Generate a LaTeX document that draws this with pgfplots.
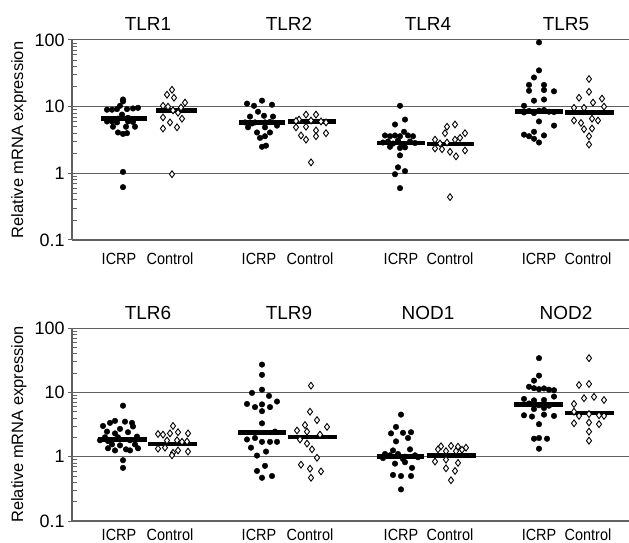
\documentclass[border=0pt]{standalone}
\usepackage{fontspec}
\setmainfont{Liberation Sans}
\usepackage{pgfplots}
\pgfplotsset{compat=1.18}
\definecolor{axgray}{gray}{0.38}

\pgfplotsset{
  icrpdots/.style={only marks, mark=*, mark size=2.8bp, black},
  ctrldiam/.style={only marks, mark=diamond*, mark size=3.4bp, mark options={draw=black, fill=white, line width=0.9bp}},
  medbar/.style={black, line width=4.5bp},
}
\tikzset{paneltitle/.style={font=\fontsize{19}{21}\selectfont, anchor=base, yshift=9bp}}

\begin{document}
\begin{tikzpicture}
\path[use as bounding box] (0,0) rectangle (629bp,543bp);

% top panel
\begin{axis}[scale only axis, width=557bp, height=200bp, at={(72bp,303bp)}, anchor=south west,
    xmin=72, xmax=629, ymode=log, ymin=0.1, ymax=100,
    ytick={0.1,1,10,100}, yticklabels={0.1,1,10,100},
    minor ytick={0.2,0.3,0.4,0.5,0.6,0.7,0.8,0.9,2,3,4,5,6,7,8,9,20,30,40,50,60,70,80,90},
    axis x line=bottom, axis y line=left,
    axis line style={-, draw=axgray, line width=1.2bp},
    ymajorgrids, grid style={axgray, line width=1bp},
    tick align=inside, minor tick length=5bp, major tick length=4bp,
    major tick style={line width=1bp, xshift=-4bp},
    minor tick style={line width=0.8bp},
    ytick style={draw=axgray}, xtick style={draw=none},
    xtick={119,170,259,310,401,450,539,588},
    xticklabels={ICRP,Control,ICRP,Control,ICRP,Control,ICRP,Control},
    xticklabel style={font=\fontsize{14.5}{16}\selectfont, inner sep=0pt, anchor=base, yscale=1.12, yshift=-22bp},
    yticklabel style={font=\fontsize{18}{20}\selectfont, xshift=-4bp},
    /pgf/number format/assume math mode=true,
    ylabel={Relative mRNA expression},
    ylabel style={font=\fontsize{16.5}{18}\selectfont, at={(axis description cs:0,0.5)}, anchor=base, yshift=49bp},
    clip=false]
% TLR1
\addplot[icrpdots] coordinates {(123,12.8)(123,12.0)(120,10.3)(107,9.0)(112,9.0)(117,9.2)(127,9.2)(133,9.4)(138,9.6)(122,7.6)(118,6.6)(128,6.8)(107,6.0)(112,6.0)(117,5.8)(128,6.0)(133,5.9)(113,5.0)(126,5.0)(135,5.0)(118,4.1)(123,3.9)(127,4.0)(123,1.05)(123,0.62)};
\addplot[ctrldiam] coordinates {(172,17.9)(167,15.1)(174,13.6)(185,11.5)(163,10.3)(168,10.0)(181,9.7)(173,8.8)(178,8.1)(163,6.9)(182,6.6)(170,5.8)(163,4.7)(177,4.9)(172,0.97)};
% TLR2
\addplot[icrpdots] coordinates {(247,11.1)(254,10.3)(262,12.3)(272,10.7)(258,8.4)(264,7.3)(250,7.1)(273,7.1)(245,5.8)(255,5.8)(265,5.8)(252,5.6)(270,5.9)(277,5.2)(248,4.9)(265,4.9)(257,4.1)(270,4.1)(260,3.4)(265,3.6)(262,2.5)(266,2.6)};
\addplot[ctrldiam] coordinates {(296,4.9)(301,3.7)(306,3.2)(306,5.0)(306,7.6)(316,7.6)(316,4.4)(316,3.6)(326,4.0)(311,1.46)(299,6.4)(321,6.0)(311,6.2)(296,6.1)(326,5.8)};
% TLR4
\addplot[icrpdots] coordinates {(400,10.3)(405,6.4)(395,5.4)(404,4.2)(385,3.7)(390,3.6)(395,3.7)(400,3.6)(408,3.7)(413,3.6)(388,3.0)(398,3.1)(410,3.0)(383,2.9)(393,2.8)(403,2.75)(415,2.85)(390,2.5)(400,2.4)(405,2.45)(400,1.86)(398,1.23)(405,1.08)(395,0.97)(400,0.6)};
\addplot[ctrldiam] coordinates {(435,3.2)(435,2.36)(442,2.3)(445,4.0)(447,5.0)(455,5.4)(455,3.2)(460,3.4)(465,4.0)(450,2.1)(456,1.8)(465,2.2)(447,2.9)(440,2.8)(450,0.44)};
% TLR5
\addplot[icrpdots] coordinates {(539,92)(539,35)(534,27.4)(529,21.2)(544,21.2)(529,17.3)(544,17.8)(554,17.0)(534,12.3)(544,12.8)(524,10.3)(524,8.2)(529,8.6)(534,8.0)(539,8.7)(544,8.9)(549,8.4)(554,8.3)(539,6.0)(554,5.2)(524,3.8)(529,3.6)(534,4.2)(544,3.7)(534,3.3)(539,2.9)};
\addplot[ctrldiam] coordinates {(589,26)(589,16.7)(579,13.6)(593,11.5)(602,13.2)(574,9.6)(584,9.6)(604,10.0)(574,6.2)(581,5.7)(592,6.6)(598,6.2)(584,4.6)(592,4.7)(589,3.6)(589,2.7)};
% medians
\addplot[medbar] coordinates {(101,6.6)(147,6.6)};
\addplot[medbar] coordinates {(156,8.7)(197,8.7)};
\addplot[medbar] coordinates {(239,5.8)(285,5.8)};
\addplot[medbar] coordinates {(288,6.0)(336,6.0)};
\addplot[medbar] coordinates {(377,2.87)(425,2.87)};
\addplot[medbar] coordinates {(427,2.77)(474,2.77)};
\addplot[medbar] coordinates {(515,8.4)(563,8.4)};
\addplot[medbar] coordinates {(565,8.2)(614,8.2)};
\node[paneltitle] at (axis cs:148,100) {TLR1};
\node[paneltitle] at (axis cs:289,100) {TLR2};
\node[paneltitle] at (axis cs:428,100) {TLR4};
\node[paneltitle] at (axis cs:566,100) {TLR5};
\end{axis}

% bottom panel
\begin{axis}[scale only axis, width=557bp, height=193bp, at={(72bp,22bp)}, anchor=south west,
    xmin=72, xmax=629, ymode=log, ymin=0.1, ymax=100,
    ytick={0.1,1,10,100}, yticklabels={0.1,1,10,100},
    minor ytick={0.2,0.3,0.4,0.5,0.6,0.7,0.8,0.9,2,3,4,5,6,7,8,9,20,30,40,50,60,70,80,90},
    axis x line=bottom, axis y line=left,
    axis line style={-, draw=axgray, line width=1.2bp},
    ymajorgrids, grid style={axgray, line width=1bp},
    tick align=inside, minor tick length=5bp, major tick length=4bp,
    major tick style={line width=1bp, xshift=-4bp},
    minor tick style={line width=0.8bp},
    ytick style={draw=axgray}, xtick style={draw=none},
    xtick={119,170,259,310,401,450,539,588},
    xticklabels={ICRP,Control,ICRP,Control,ICRP,Control,ICRP,Control},
    xticklabel style={font=\fontsize{14.5}{16}\selectfont, inner sep=0pt, anchor=base, yscale=1.12, yshift=-17bp},
    yticklabel style={font=\fontsize{18}{20}\selectfont, xshift=-4bp},
    /pgf/number format/assume math mode=true,
    ylabel={Relative mRNA expression},
    ylabel style={font=\fontsize{16.5}{18}\selectfont, at={(axis description cs:0,0.5)}, anchor=base, yshift=49bp},
    clip=false]
% TLR6
\addplot[icrpdots] coordinates {(123,6.2)(115,3.6)(110,3.35)(125,3.5)(132,3.35)(103,3.0)(133,2.95)(120,2.7)(107,2.45)(115,2.3)(128,2.4)(137,2.05)(105,2.0)(118,2.0)(108,1.75)(130,1.8)(100,1.8)(112,1.55)(120,1.5)(135,1.55)(108,1.35)(115,1.25)(126,1.3)(130,1.25)(138,1.35)(123,0.88)(123,0.67)};
\addplot[ctrldiam] coordinates {(173,3.0)(158,2.25)(163,2.2)(170,2.3)(178,2.4)(188,2.3)(167,1.78)(177,1.8)(182,1.7)(187,1.72)(158,1.33)(165,1.38)(173,1.15)(172,1.05)(178,1.25)(188,1.2)};
% TLR9
\addplot[icrpdots] coordinates {(262,27)(262,18.7)(262,11)(252,9.8)(269,8.8)(247,6.6)(262,6.5)(277,7.2)(255,5.9)(270,5.9)(262,5.1)(262,3.3)(275,2.45)(247,1.85)(255,1.95)(262,1.7)(270,1.7)(277,1.7)(251,1.38)(266,1.2)(257,1.04)(265,0.72)(257,0.6)(272,0.5)(262,0.47)};
\addplot[ctrldiam] coordinates {(311,12.7)(310,5.0)(317,3.7)(305,3.1)(327,2.9)(297,2.55)(307,2.45)(320,2.2)(300,1.85)(307,1.6)(312,1.3)(317,0.96)(301,0.75)(310,0.65)(321,0.59)(311,0.47)};
% NOD1
\addplot[icrpdots] coordinates {(401,4.5)(396,2.9)(391,2.3)(403,2.35)(411,2.4)(396,1.73)(408,1.95)(393,1.25)(410,1.3)(385,1.1)(390,1.05)(398,1.1)(405,1.0)(415,1.05)(383,0.95)(403,0.92)(418,0.98)(395,0.78)(405,0.82)(412,0.67)(393,0.52)(401,0.5)(411,0.5)(401,0.31)};
\addplot[ctrldiam] coordinates {(441,1.45)(451,1.47)(458,1.43)(466,1.38)(438,1.3)(446,1.22)(456,1.22)(462,1.28)(435,0.84)(446,0.9)(458,0.8)(446,0.66)(455,0.6)(451,0.43)};
% NOD2
\addplot[icrpdots] coordinates {(539,34)(539,18.2)(534,15.2)(529,12.2)(534,11.6)(539,11.2)(544,11.5)(549,11.0)(554,10.8)(524,7.9)(554,8.6)(534,7.5)(544,7.6)(529,6.7)(539,6.3)(549,6.2)(534,5.5)(544,5.7)(524,4.4)(532,4.2)(544,4.5)(554,4.3)(539,3.2)(534,1.9)(539,1.95)(547,1.9)(539,1.33)};
\addplot[ctrldiam] coordinates {(589,34)(579,13)(589,13.5)(574,6.6)(584,8.1)(594,8.5)(604,7.6)(574,5.0)(579,4.3)(589,4.6)(599,4.4)(604,4.3)(574,3.3)(589,3.4)(599,3.2)(589,2.45)(589,1.77)};
% medians
\addplot[medbar] coordinates {(98,1.84)(147,1.84)};
\addplot[medbar] coordinates {(148,1.58)(197,1.58)};
\addplot[medbar] coordinates {(238,2.36)(286,2.36)};
\addplot[medbar] coordinates {(288,2.02)(337,2.02)};
\addplot[medbar] coordinates {(377,1.01)(424,1.01)};
\addplot[medbar] coordinates {(427,1.05)(476,1.05)};
\addplot[medbar] coordinates {(514,6.45)(563,6.45)};
\addplot[medbar] coordinates {(565,4.8)(614,4.8)};
\node[paneltitle] at (axis cs:148,100) {TLR6};
\node[paneltitle] at (axis cs:289,100) {TLR9};
\node[paneltitle] at (axis cs:428,100) {NOD1};
\node[paneltitle] at (axis cs:566,100) {NOD2};
\end{axis}
\end{tikzpicture}
\end{document}
